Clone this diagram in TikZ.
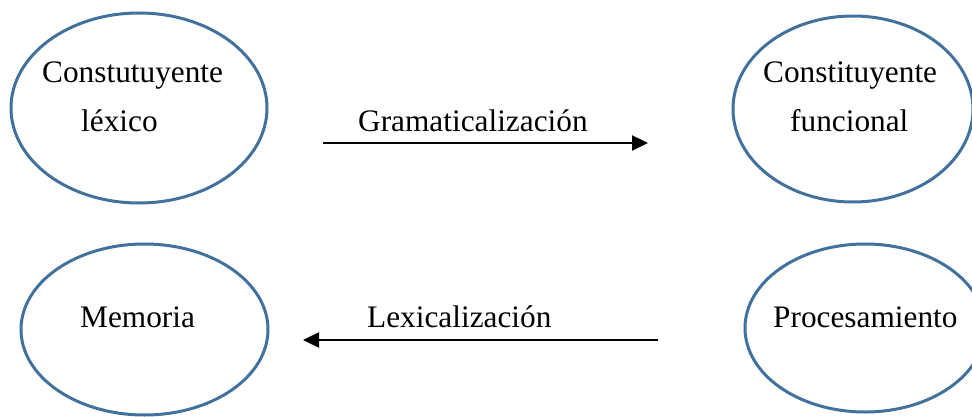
\documentclass[tikz,border=0pt]{standalone}
\usepackage{fontspec}
\setmainfont{Liberation Serif}
\usetikzlibrary{shapes.geometric,arrows.meta}
\definecolor{ellblue}{RGB}{65,113,156}
\begin{document}
\begin{tikzpicture}[x=1pt,y=-1pt,
  oval/.style={ellipse,draw=ellblue,line width=3pt,inner sep=0pt},
  lbl/.style={anchor=base west,inner sep=0pt,font=\fontsize{31.3}{36}\selectfont},
  conn/.style={line width=2.3pt,-{Triangle[length=16pt,width=15pt]}}]
\useasboundingbox (0,0) rectangle (972,417);
\clip (0,0) rectangle (972,417);
\node[oval,minimum width=256pt,minimum height=190pt] (lex) at (139,108) {};
\node[oval,minimum width=240pt,minimum height=186pt] (fun) at (853,109) {};
\node[oval,minimum width=247pt,minimum height=171pt] (mem) at (144.5,329.5) {};
\node[oval,minimum width=240pt,minimum height=168pt] (pro) at (865,328) {};
\node[lbl] (t1) at (42,83) {Constutuyente};
\node[lbl] (t2) at (81,132) {léxico};
\node[lbl] (t3) at (763,83) {Constituyente};
\node[lbl] (t4) at (790,132) {funcional};
\node[lbl] (t5) at (80,327) {Memoria};
\node[lbl] (t6) at (773,327) {Procesamiento};
\node[lbl] (g) at (358,132) {Gramaticalización};
\node[lbl] (l) at (367,327) {Lexicalización};
\coordinate (a1s) at (323,143);
\coordinate (a1e) at (648,143);
\coordinate (a2s) at (658,340);
\coordinate (a2e) at (303,340);
\draw[conn] (a1s) -- (a1e);
\draw[conn] (a2s) -- (a2e);
\end{tikzpicture}
\end{document}
